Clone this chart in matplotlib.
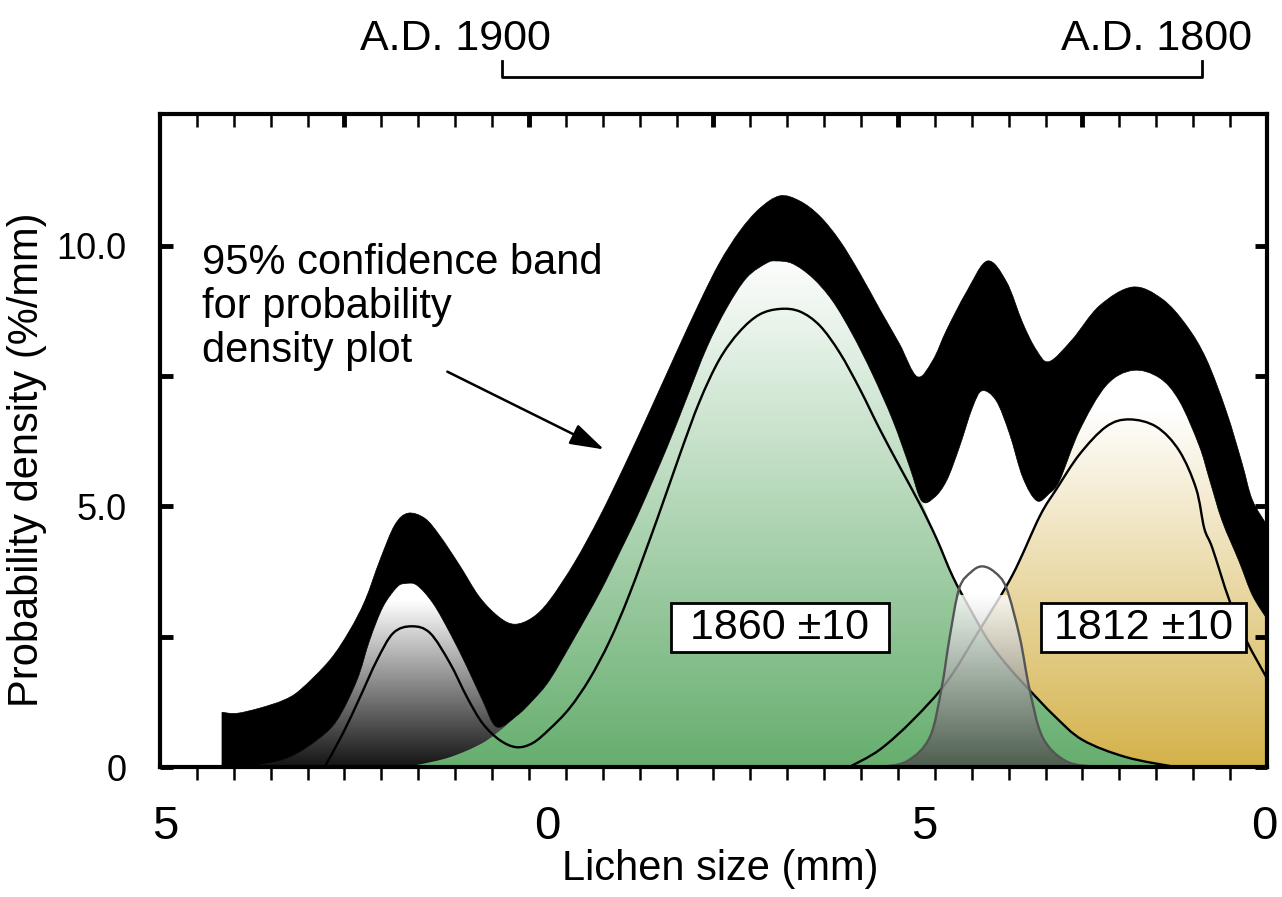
import numpy as np
import matplotlib
matplotlib.use('Agg')
import matplotlib.pyplot as plt
from matplotlib.patches import PathPatch, Rectangle
from matplotlib.path import Path
from matplotlib.colors import LinearSegmentedColormap

plt.rcParams['font.family'] = ['Liberation Sans', 'DejaVu Sans']

# --- values (lichen size in mm, density in %/mm) ---
band_hi_x = [15.84, 16.04, 16.35, 16.67, 16.90, 17.30, 17.57, 17.78, 17.98, 18.18,
             18.36, 18.59, 18.79, 19.06, 19.33, 19.60, 19.81, 20.05, 20.28, 20.62,
             20.96, 21.30, 21.64, 21.97, 22.31, 22.58, 22.85, 23.12, 23.40, 23.67,
             23.94, 24.21, 24.48, 24.75, 25.02, 25.26, 25.47, 25.66, 25.93, 26.21,
             26.47, 26.69, 26.88, 27.05, 27.36, 27.73, 28.18, 28.58, 28.91, 29.18,
             29.45, 29.66, 29.80, 30.0]
band_hi_y = [1.05, 1.03, 1.13, 1.28, 1.48, 2.05, 2.62, 3.20, 3.97, 4.64,
             4.87, 4.77, 4.44, 3.87, 3.26, 2.87, 2.74, 2.87, 3.20, 3.93,
             4.81, 5.80, 6.84, 7.87, 8.91, 9.67, 10.27, 10.71, 10.96, 10.86,
             10.57, 10.10, 9.48, 8.79, 8.12, 7.49, 7.80, 8.39, 9.12, 9.71,
             9.31, 8.52, 7.99, 7.78, 8.20, 8.85, 9.21, 8.98, 8.47, 7.82,
             6.82, 5.84, 5.13, 4.64]

band_lo_x = [15.84, 16.35, 16.76, 17.13, 17.40, 17.67, 17.84, 18.02, 18.21, 18.32,
             18.48, 18.70, 18.93, 19.16, 19.37, 19.56, 19.83, 20.05, 20.28, 20.62,
             20.96, 21.23, 21.50, 21.87, 22.14, 22.41, 22.68, 22.95, 23.22, 23.35,
             23.57, 23.84, 24.11, 24.38, 24.65, 24.93, 25.16, 25.32, 25.49, 25.66,
             25.83, 26.01, 26.14, 26.33, 26.51, 26.69, 26.88, 27.05, 27.19, 27.46,
             27.82, 28.18, 28.54, 28.81, 29.08, 29.22, 29.39, 29.62, 29.80, 30.0]
band_lo_y = [0.0, 0.04, 0.19, 0.52, 0.90, 1.67, 2.43, 3.07, 3.45, 3.52,
             3.49, 3.14, 2.57, 1.92, 1.28, 0.77, 0.98, 1.28, 1.67, 2.49,
             3.35, 4.12, 4.92, 6.13, 7.09, 8.05, 8.81, 9.39, 9.67, 9.71,
             9.66, 9.39, 8.95, 8.31, 7.55, 6.65, 5.75, 5.11, 5.17, 5.50,
             6.13, 6.90, 7.22, 7.03, 6.40, 5.56, 5.11, 5.25, 5.50, 6.46,
             7.32, 7.61, 7.47, 7.03, 6.17, 5.52, 4.73, 3.95, 3.30, 2.84]

# summed curve of the 1860 group (thin black line)
sum_x = [17.23, 17.48, 17.71, 17.94, 18.16, 18.41, 18.66, 18.93, 19.16, 19.37,
         19.60, 19.83, 20.05, 20.28, 20.55, 20.82, 21.09, 21.36, 21.73, 22.04,
         22.31, 22.58, 22.85, 23.12, 23.40, 23.67, 23.94, 24.21, 24.48, 24.75,
         25.02, 25.29, 25.52, 25.74, 25.97, 26.24, 26.51, 26.78, 27.12, 27.50,
         28.09, 28.76]
sum_y = [0.0, 0.65, 1.34, 2.05, 2.57, 2.70, 2.57, 1.99, 1.34, 0.84,
         0.52, 0.38, 0.46, 0.73, 1.13, 1.69, 2.41, 3.31, 4.73, 5.98,
         7.01, 7.82, 8.35, 8.68, 8.79, 8.74, 8.47, 7.95, 7.26, 6.49,
         5.77, 5.06, 4.39, 3.66, 3.05, 2.39, 1.90, 1.48, 0.98, 0.52,
         0.19, 0.0]

# left rise of the green (1860) population
green_rise_x = [18.25, 18.48, 18.93, 19.37, 19.67]
green_rise_y = [0.0, 0.04, 0.19, 0.46, 0.77]

# 1812 population (thin black line)
gold_x = [24.34, 24.75, 25.20, 25.66, 26.10, 26.55, 26.92, 27.15, 27.46, 27.82,
          28.13, 28.50, 28.81, 29.04, 29.15, 29.26, 29.49, 29.72, 30.0]
gold_y = [0.0, 0.33, 0.90, 1.63, 2.62, 3.68, 4.81, 5.34, 6.00, 6.53,
          6.67, 6.53, 6.07, 5.34, 4.58, 4.20, 3.20, 2.43, 1.70]

# small grey population near 26 mm
small_x = [24.75, 25.12, 25.43, 25.59, 25.70, 25.83, 25.99, 26.14, 26.31, 26.47,
           26.65, 26.78, 26.96, 27.28, 27.69]
small_y = [0.0, 0.11, 0.57, 1.51, 2.49, 3.43, 3.74, 3.85, 3.74, 3.43,
           2.49, 1.51, 0.57, 0.11, 0.0]

x_tick_pos = [15.07, 20.25, 25.36, 29.96]
x_tick_lab = ['5', '0', '5', '0']
y_tick_pos = [0, 5, 10]
y_tick_lab = ['0', '5.0', '10.0']


def smooth(x, y):
    # smooth bezier path running through the read points
    p = np.column_stack([x, y]).astype(float)
    n = len(p)
    verts = []
    for i in range(n - 1):
        p0 = p[i - 1] if i > 0 else p[i]
        p3 = p[i + 2] if i + 2 < n else p[i + 1]
        verts += [p[i] + (p[i + 1] - p0) / 6, p[i + 1] - (p3 - p[i]) / 6, p[i + 1]]
    return p[0], verts


def make_path(pieces, close=False):
    verts, codes = [], []
    for k, (x, y) in enumerate(pieces):
        start, cv = smooth(x, y)
        verts.append(start)
        codes.append(Path.MOVETO if k == 0 else Path.LINETO)
        verts += cv
        codes += [Path.CURVE4] * len(cv)
    if close:
        verts.append(verts[0])
        codes.append(Path.CLOSEPOLY)
    return Path(np.array(verts), codes)


fig = plt.figure(figsize=(12.82, 8.97), dpi=100)
ax = fig.add_axes([0.1248, 0.1449, 0.8635, 0.7280])

bx = np.array(band_lo_x)
by = np.array(band_lo_y)
gx = np.array(gold_x)
gy = np.array(gold_y)
sx = np.array(sum_x)
sy = np.array(sum_y)


def grad_fill(path, top, bottom_color, z, alpha=1.0):
    patch = PathPatch(path, fc='none', ec='none')
    ax.add_patch(patch)
    cmap = LinearSegmentedColormap.from_list('g', [bottom_color, 'white'])
    grad = np.linspace(0, 1, 256).reshape(-1, 1)
    im = ax.imshow(grad, cmap=cmap, extent=[15, 30, 0, top], origin='lower',
                   aspect='auto', zorder=z, alpha=alpha, interpolation='bilinear')
    im.set_clip_path(patch)


# left grey peak
m = bx <= 19.83
grad_fill(make_path([(bx[m], by[m]), ([19.83], [0.0])], close=True), 3.2, '#141414', 1)

# 1812 gold
m1 = gx <= 27.15
m2 = bx >= 27.19
grad_fill(make_path([(gx[m1], gy[m1]), (bx[m2], by[m2]), ([30.0], [0.0])], close=True),
          6.9, '#d4b24a', 1)

# 1860 green
m1 = (bx > 19.67) & (bx <= 25.32)
m2 = sx >= 25.4
grad_fill(make_path([(green_rise_x, green_rise_y), (bx[m1], by[m1]), (sx[m2], sy[m2])],
                    close=True), 9.9, '#66ae6e', 2)

ax.add_patch(PathPatch(make_path([(sum_x, sum_y)]), fill=False, ec='black', lw=1.7, zorder=3))
ax.add_patch(PathPatch(make_path([(gold_x, gold_y)]), fill=False, ec='black', lw=1.7, zorder=3))

# small grey peak, slightly see-through
grad_fill(make_path([(small_x, small_y)], close=True), 3.3, '#484a47', 4, alpha=0.8)
ax.add_patch(PathPatch(make_path([(small_x, small_y)]), fill=False, ec='#555555',
                       lw=1.7, zorder=5))

# 95% confidence band
band = make_path([(band_hi_x, band_hi_y), (band_lo_x[::-1], band_lo_y[::-1])], close=True)
ax.add_patch(PathPatch(band, fc='black', ec='black', lw=0.5, zorder=6))

# labelled boxes
for (x0, w, cx, txt) in [(21.93, 2.95, 23.40, '1860 ±10'), (26.94, 2.77, 28.32, '1812 ±10')]:
    ax.add_patch(Rectangle((x0, 2.20), w, 0.94, fc='white', ec='black', lw=2, zorder=7))
    ax.text(cx, 2.67, txt, ha='center', va='center', fontsize=31, zorder=8)

ax.text(15.57, 10.05, '95% confidence band\nfor probability\ndensity plot',
        ha='left', va='top', fontsize=30, linespacing=1.12, zorder=8)
ax.annotate('', xy=(21.05, 6.07), xytext=(18.86, 7.61),
            arrowprops=dict(arrowstyle='-|>,head_length=0.7,head_width=0.22',
                            mutation_scale=30, lw=1.8, color='black'))

# A.D. bracket above the plot
ax.plot([19.63, 19.63, 29.12, 29.12], [13.54, 13.24, 13.24, 13.54],
        color='black', lw=2, clip_on=False)
ax.text(19.0, 13.97, 'A.D. 1900', ha='center', va='center', fontsize=31)
ax.text(28.50, 13.97, 'A.D. 1800', ha='center', va='center', fontsize=31)

ax.set_xlim(15, 30)
ax.set_ylim(0, 12.53)

for s in ax.spines.values():
    s.set_linewidth(3)
    s.set_zorder(10)

ax.set_xticks(x_tick_pos, x_tick_lab)
ax.set_xticks(np.arange(15.5, 29.75, 0.5), minor=True)
ax.tick_params(axis='x', which='major', length=0, labelsize=34, pad=27)
ax.tick_params(axis='x', which='minor', direction='out', length=9, width=1.8)

ax.set_yticks(y_tick_pos, y_tick_lab)
ax.set_yticks([2.5, 7.5], minor=True)
ax.tick_params(axis='y', which='both', direction='in', left=True, right=True,
               length=9, width=3.5, labelsize=26, pad=24)

top = ax.twiny()
top.set_xlim(15, 30)
for s in top.spines.values():
    s.set_visible(False)
top.set_xticks([17.5, 20, 22.5, 25, 27.5], ['', '', '', '', ''])
top.set_xticks([v for v in np.arange(15.5, 29.75, 0.5) if v % 2.5 != 0], minor=True)
top.tick_params(axis='x', which='major', direction='in', length=9, width=3.5)
top.tick_params(axis='x', which='minor', direction='in', length=9, width=1.8)

ax.set_xlabel('Lichen size (mm)', fontsize=30)
ax.set_ylabel('Probability density (%/mm)', fontsize=30)
ax.xaxis.set_label_coords(0.506, -0.125)
ax.yaxis.set_label_coords(-0.102, 0.47)

fig.savefig('out.png', dpi=100)
